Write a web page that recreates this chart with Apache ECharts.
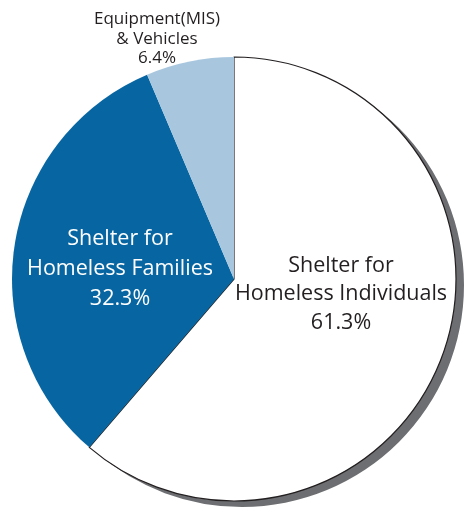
<!DOCTYPE html>
<html>
<head>
<meta charset="utf-8">
<script src="https://cdn.jsdelivr.net/npm/echarts@6/dist/echarts.min.js"></script>
<style>html,body{margin:0;padding:0;background:#fff;}#chart{width:464px;height:510px;}</style>
</head>
<body>
<div id="chart"></div>
<script>
const categories = ['Shelter for\nHomeless Individuals', 'Shelter for\nHomeless Families', 'Equipment(MIS)\n& Vehicles'];
const values = [61.3, 32.3, 6.4];
const labelPos = [[341, 294], [120, 269], [157, 39]];
const colors = ['#ffffff', '#0766a2', '#a8c7de'];
const textColors = ['#231f20', '#ffffff', '#231f20'];
const fontSizes = [21.5, 21.5, 17];
const lineHeights = [28.5, 30, 19.5];

const chart = echarts.init(document.getElementById('chart'));
chart.setOption({
  animation: false,
  series: [{
    // drop shadow of the white slice
    type: 'pie',
    silent: true,
    center: [242, 285],
    radius: [0, 222],
    startAngle: 90,
    clockwise: true,
    label: { show: false },
    labelLine: { show: false },
    data: categories.map((c, i) => ({
      name: c,
      value: values[i],
      itemStyle: { color: i === 0 ? '#6d6e71' : 'rgba(0,0,0,0)', borderWidth: 0 }
    }))
  }, {
    type: 'pie',
    center: [234, 279],
    radius: [0, 222],
    startAngle: 90,
    clockwise: true,
    avoidLabelOverlap: false,
    labelLine: { show: false },
    data: categories.map((c, i) => ({
      name: c,
      value: values[i],
      itemStyle: i === 0 ? {
        color: colors[i], borderColor: '#231f20', borderWidth: 1.2
      } : { color: colors[i], borderWidth: 0 },
      label: {
        show: true,
        position: 'inside',
        formatter: (p) => p.name + '\n' + p.value.toFixed(1) + '%',
        color: textColors[i],
        fontFamily: 'Open Sans',
        fontSize: fontSizes[i],
        lineHeight: lineHeights[i],
        align: 'center',
        verticalAlign: 'middle'
      }
    })),
    labelLayout: (params) => ({
      x: labelPos[params.dataIndex][0],
      y: labelPos[params.dataIndex][1],
      align: 'center',
      verticalAlign: 'middle'
    })
  }]
});
</script>
</body>
</html>
